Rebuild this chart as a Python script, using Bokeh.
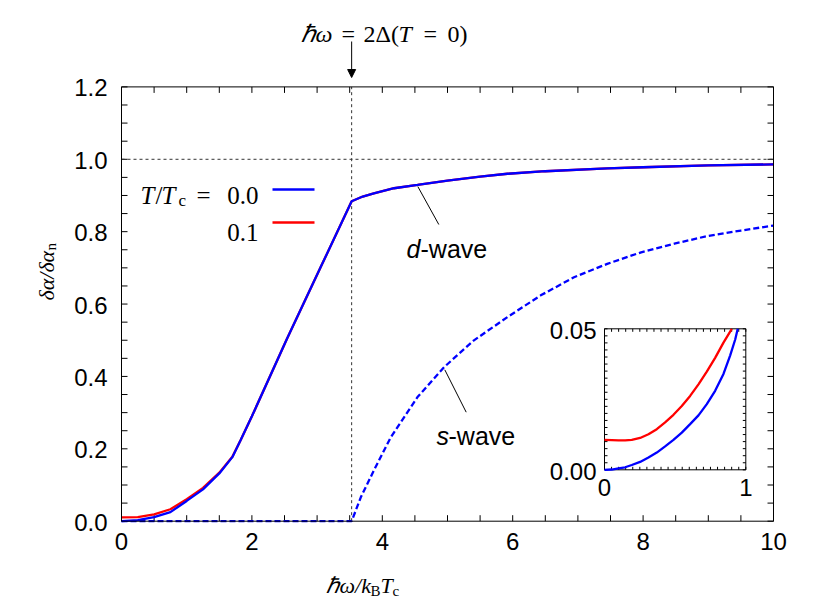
import numpy as np
from bokeh.plotting import figure
from bokeh.models import Range1d, Arrow, NormalHead
from bokeh.core.properties import value
from bokeh.embed import file_html
from bokeh.resources import INLINE

# ---------------- data ----------------
gap_x = 3.53          # hbar*omega = 2*Delta(T=0), in units of kB*Tc
norm_level = 1.0

d_x = [0.0, 0.25, 0.5, 0.75, 1.0, 1.25, 1.5, 1.7, 1.83, 2.0, 2.54, 3.05, 3.53,
       3.7, 3.87, 4.18, 4.54, 5.0, 5.5, 5.92, 6.5, 7.45, 8.0, 9.0, 10.0]
d_T00 = [0.0, 0.003, 0.011, 0.025, 0.056, 0.088, 0.132, 0.177, 0.225, 0.29, 0.505, 0.70, 0.884,
         0.897, 0.906, 0.920, 0.929, 0.941, 0.952, 0.960, 0.967, 0.975, 0.978, 0.983, 0.986]
d_T01 = [0.0106, 0.0115, 0.019, 0.033, 0.061, 0.092, 0.134, 0.178, 0.225, 0.29, 0.505, 0.70, 0.884,
         0.897, 0.906, 0.920, 0.929, 0.941, 0.952, 0.960, 0.967, 0.975, 0.978, 0.983, 0.986]

s_x = [0.0, 3.53, 3.67, 3.87, 4.13, 4.54, 4.95, 5.40, 5.92, 6.43, 6.94, 7.45,
       7.97, 8.48, 8.99, 9.50, 10.0]
s_T00 = [0.0, 0.0, 0.066, 0.140, 0.232, 0.343, 0.426, 0.499, 0.564, 0.624, 0.674, 0.711,
         0.743, 0.767, 0.788, 0.803, 0.817]

ins_x_T00 = [0.0, 0.052, 0.099, 0.146, 0.193, 0.252, 0.311, 0.370, 0.429, 0.488, 0.547,
             0.606, 0.665, 0.724, 0.783, 0.842, 0.889, 0.925, 0.943]
ins_T00 = [0.0, 0.0001, 0.0005, 0.0009, 0.0017, 0.0028, 0.0044, 0.0061, 0.0083, 0.0106, 0.0132,
           0.0162, 0.0193, 0.0233, 0.0280, 0.0340, 0.0405, 0.0462, 0.05]
ins_x_T01 = [0.0, 0.052, 0.099, 0.146, 0.193, 0.252, 0.311, 0.370, 0.429, 0.488, 0.547,
             0.606, 0.665, 0.724, 0.783, 0.842, 0.901]
ins_T01 = [0.0106, 0.0105, 0.0104, 0.0104, 0.0106, 0.0113, 0.0126, 0.0144, 0.0168, 0.0195, 0.0226,
           0.0262, 0.0303, 0.0348, 0.0397, 0.0451, 0.05]

x_major = [0, 2, 4, 6, 8, 10]
x_minor = [0.5 * i for i in range(21)]
y_major = [0.0, 0.2, 0.4, 0.6, 0.8, 1.0, 1.2]
y_minor = [0.05 * i for i in range(25)]
x_labels = [str(v) for v in x_major]
y_labels = ["%.1f" % v for v in y_major]

inset_xlim = (0.0, 1.0)
inset_ylim = (0.0, 0.05)
inset_xticks = [0, 1]
inset_xtick_labels = ["0", "1"]
inset_yticks = [0.0, 0.05]
inset_ytick_labels = ["0.00", "0.05"]
inset_minor_x = [0.05 * i for i in range(21)]
inset_minor_y = [0.0025 * i for i in range(21)]

legend_labels = ["0.0", "0.1"]

BLUE = "#0000ff"
RED = "#ff0000"
SANS = "Liberation Sans"
SERIF = "Liberation Serif"

# ---------------- figure ----------------
X0, X1, Y0, Y1 = 0.0, 10.0, 0.0, 1.2          # data box of the main panel
W, H = 830, 612
FL, FR, FB, FT = 121.0, 773.0, 520.7, 86.4     # where that box sits on the page (px)

def dx(px):
    return X0 + (px - FL) / (FR - FL) * (X1 - X0)
def dy(py):
    return Y0 + (FB - py) / (FB - FT) * (Y1 - Y0)

# the plotting frame covers the whole canvas, so nothing outside the data box is clipped
p = figure(width=W, height=H, x_range=Range1d(dx(0), dx(W)), y_range=Range1d(dy(H), dy(0)),
           output_backend="svg", toolbar_location=None,
           x_axis_location=None, y_axis_location=None,
           min_border_left=0, min_border_right=0, min_border_top=0, min_border_bottom=0)
p.background_fill_color = "white"
p.border_fill_color = "white"
p.outline_line_color = None
p.xgrid.grid_line_color = None
p.ygrid.grid_line_color = None

# ---- main axes box, ticks, tick labels ----
TICK = 6
tk = dict(length=TICK, length_units="screen", line_color="black", line_width=1)
xm = np.array(x_minor)
ym = np.array(y_minor)
p.ray(x=xm, y=np.full_like(xm, Y0), angle=np.pi / 2, **tk)
p.ray(x=xm, y=np.full_like(xm, Y1), angle=-np.pi / 2, **tk)
p.ray(x=np.full_like(ym, X0), y=ym, angle=0.0, **tk)
p.ray(x=np.full_like(ym, X1), y=ym, angle=np.pi, **tk)

p.text(x=x_major, y=[Y0] * len(x_major), text=x_labels, text_font=value(SANS),
       text_font_size="24px", text_align="center", text_baseline="top", y_offset=12,
       text_color="black")
p.text(x=[X0] * len(y_major), y=y_major, text=y_labels, text_font=value(SANS),
       text_font_size="24px", text_align="right", text_baseline="middle", x_offset=-14,
       y_offset=1, text_color="black")

# reference lines
p.segment(x0=[X0], y0=[norm_level], x1=[X1], y1=[norm_level],
          line_color="#333333", line_width=1, line_dash="3 3")
p.segment(x0=[gap_x], y0=[Y0], x1=[gap_x], y1=[Y1],
          line_color="#333333", line_width=1, line_dash="3 3")

# curves
p.line(s_x, s_T00, line_color=BLUE, line_width=2.3, line_dash="6 3")
p.line(d_x, d_T01, line_color=RED, line_width=2.3)
p.line(d_x, d_T00, line_color=BLUE, line_width=2.3)

# frame
p.quad(left=[X0], right=[X1], bottom=[Y0], top=[Y1], fill_color=None,
       line_color="black", line_width=1)

# leader lines + curve labels
p.segment(x0=[dx(417.3), dx(444.3)], y0=[dy(186), dy(369.3)],
          x1=[dx(438.3), dx(465.7)], y1=[dy(224), dy(411.7)],
          line_color="black", line_width=1)
for t, xp, yp, st in [("d", 406, 248, "italic"), ("-wave", 420, 248, "normal"),
                      ("s", 436, 435, "italic"), ("-wave", 448, 435, "normal")]:
    p.text(x=[dx(xp)], y=[dy(yp)], text=[t], text_font=value(SANS), text_font_size="25px",
           text_font_style=st, text_baseline="alphabetic", text_align="left", text_color="black")

# legend
p.segment(x0=[dx(272), dx(272)], y0=[dy(189), dy(222)], x1=[dx(314), dx(314)], y1=[dy(189), dy(222)],
          line_color=[BLUE, RED], line_width=2.3)

def txt(xp, yp, t, fs, st="normal", font=SERIF, align="left", angle=0.0):
    p.text(x=[dx(xp)], y=[dy(yp)], text=[t], text_font=value(font), text_font_size=fs,
           text_font_style=st, text_align=align, text_baseline="alphabetic", angle=angle,
           text_color="black")

txt(140, 195, "T", "25px", "italic")
txt(155, 195, "/", "25px")
txt(161, 195, "T", "25px", "italic")
txt(178, 200, "c", "17px")
txt(196, 195, "=", "25px")
txt(258, 195, legend_labels[0], "25px", align="right")
txt(258, 232, legend_labels[1], "25px", align="right")

# ---------------- inset (through its own ranges) ----------------
ix_px0, ix_px1, iy_px0, iy_px1 = 604.0, 745.3, 469.3, 328.3
ixs = (inset_xlim[1] - inset_xlim[0]) / (dx(ix_px1) - dx(ix_px0))
iys = (inset_ylim[1] - inset_ylim[0]) / (dy(iy_px1) - dy(iy_px0))
p.extra_x_ranges = {"ix": Range1d(inset_xlim[0] + (dx(0) - dx(ix_px0)) * ixs,
                                  inset_xlim[0] + (dx(W) - dx(ix_px0)) * ixs)}
p.extra_y_ranges = {"iy": Range1d(inset_ylim[0] + (dy(H) - dy(iy_px0)) * iys,
                                  inset_ylim[0] + (dy(0) - dy(iy_px0)) * iys)}
IR = dict(x_range_name="ix", y_range_name="iy")

p.quad(left=[inset_xlim[0]], right=[inset_xlim[1]], bottom=[inset_ylim[0]], top=[inset_ylim[1]],
       fill_color="white", line_color="black", line_width=1, **IR)
ixt = np.array(inset_minor_x)
iyt = np.array(inset_minor_y)
itk = dict(length=3, length_units="screen", line_color="black", line_width=1, **IR)
p.ray(x=ixt, y=np.full_like(ixt, inset_ylim[0]), angle=np.pi / 2, **itk)
p.ray(x=ixt, y=np.full_like(ixt, inset_ylim[1]), angle=-np.pi / 2, **itk)
p.ray(x=np.full_like(iyt, inset_xlim[0]), y=iyt, angle=0.0, **itk)
p.ray(x=np.full_like(iyt, inset_xlim[1]), y=iyt, angle=np.pi, **itk)

p.line(ins_x_T01, ins_T01, line_color=RED, line_width=2.3, **IR)
p.line(ins_x_T00, ins_T00, line_color=BLUE, line_width=2.3, **IR)

p.text(x=inset_xticks, y=[inset_ylim[0]] * len(inset_xticks), text=inset_xtick_labels,
       text_font=value(SANS), text_font_size="24px", text_align="center", text_baseline="top",
       y_offset=9, text_color="black", **IR)
p.text(x=[inset_xlim[0]] * len(inset_yticks), y=inset_yticks, text=inset_ytick_labels,
       text_font=value(SANS), text_font_size="24px", text_align="right", text_baseline="middle",
       x_offset=-8, y_offset=2, text_color="black", **IR)

# ---------------- annotation above the plot ----------------
for t, xp, st in [("\u210f\u03c9", 300, "italic"), ("=", 341, "normal"), ("2\u0394(", 363, "normal"),
                  ("T", 398, "italic"), ("=", 423, "normal"), ("0)", 447, "normal")]:
    txt(xp, 33, t, "24px", st)
p.add_layout(Arrow(end=NormalHead(size=8, fill_color="black", line_color="black", line_width=1),
                   x_start=gap_x, y_start=dy(41), x_end=gap_x, y_end=dy(77),
                   line_color="black", line_width=1))

# ---------------- axis titles ----------------
txt(325, 585, "\u210f\u03c9/k", "22px", "italic")
txt(370, 590, "B", "15px")
txt(380, 585, "T", "22px", "italic")
txt(392, 590, "c", "15px")

txt(46, 300, "\u03b4\u03b1/\u03b4\u03b1", "22px", "italic", angle=np.pi / 2)
txt(50, 250, "n", "15px", angle=np.pi / 2)

open("out.html", "w").write(file_html(p, INLINE))
